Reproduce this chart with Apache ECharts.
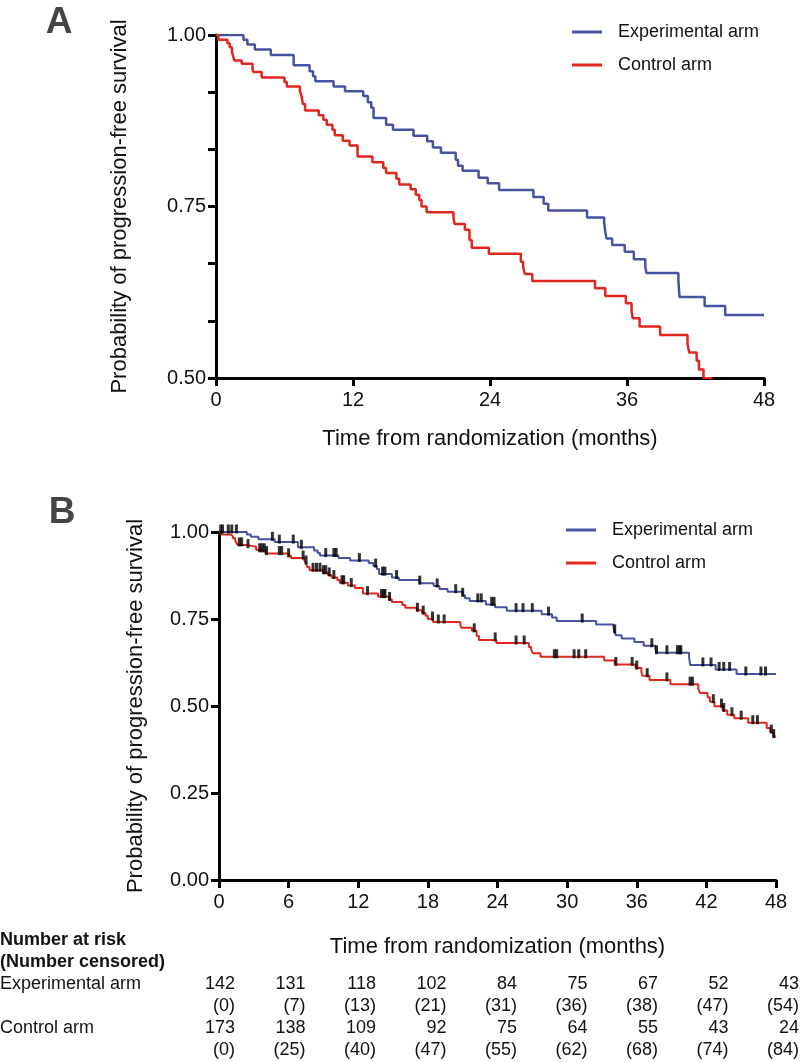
<!DOCTYPE html>
<html>
<head>
<meta charset="utf-8">
<script src="https://cdn.jsdelivr.net/npm/echarts@6/dist/echarts.min.js"></script>
<style>
html,body{margin:0;padding:0;background:#fff;}
#chart{width:800px;height:1062px;}
</style>
</head>
<body>
<div id="chart"></div>
<script>
// ---- Data ----
var expTimes = [0, 2.4, 2.75, 3.4, 4.8, 6.8, 8.2, 8.5, 8.7, 10.3, 11.3, 12.9, 13.3, 13.6, 13.8, 14.9, 15.5, 17.3, 18.5, 19.0, 19.7, 21.0, 21.2, 21.6, 23.0, 23.8, 24.8, 27.8, 28.7, 29.1, 32.5, 34.0, 34.1, 34.2, 34.7, 35.8, 36.6, 37.6, 37.7, 40.5, 40.6, 42.8, 44.6, 48];
var expSurv  = [1.0, 0.993, 0.986, 0.979, 0.971, 0.956, 0.947, 0.94, 0.9325, 0.925, 0.918, 0.911, 0.902, 0.894, 0.879, 0.869, 0.862, 0.853, 0.845, 0.836, 0.8285, 0.818, 0.8095, 0.802, 0.792, 0.784, 0.774, 0.764, 0.754, 0.744, 0.734, 0.7255, 0.713, 0.7035, 0.694, 0.684, 0.673, 0.663, 0.653, 0.643, 0.618, 0.605, 0.592, 0.592];
var ctrlTimes = [0, 0.2, 1.0, 1.2, 1.4, 1.5, 1.6, 2.25, 3.2, 3.3, 4.0, 6.0, 6.2, 7.35, 7.5, 7.6, 7.8, 9.0, 9.4, 9.7, 10.2, 10.4, 11.1, 11.7, 12.4, 13.7, 14.65, 14.9, 15.8, 16.05, 17.05, 17.5, 17.8, 18.0, 18.45, 20.8, 20.9, 21.8, 22.2, 22.4, 23.9, 26.7, 26.9, 27.05, 27.7, 33.2, 34.1, 35.9, 36.4, 36.5, 37.1, 38.9, 41.3, 41.45, 42.1, 42.3, 42.7, 43.4, 43.8, 44.4, 45.6, 47.2, 47.5, 47.8, 48];
var ctrlSurv  = [1.0, 0.993, 0.988, 0.982, 0.975, 0.969, 0.963, 0.958, 0.949, 0.946, 0.938, 0.9315, 0.925, 0.918, 0.911, 0.8995, 0.89, 0.883, 0.8765, 0.869, 0.862, 0.854, 0.846, 0.839, 0.823, 0.8145, 0.806, 0.799, 0.7905, 0.782, 0.775, 0.767, 0.7595, 0.75, 0.7415, 0.733, 0.7245, 0.716, 0.701, 0.69, 0.681, 0.6695, 0.662, 0.6515, 0.6415, 0.631, 0.6195, 0.609, 0.597, 0.587, 0.575, 0.5627, 0.5496, 0.537, 0.525, 0.5125, 0.4996, 0.487, 0.475, 0.465, 0.452, 0.437, 0.425, 0.412, 0.412];
var expCensor  = [0.3, 0.8, 1.1, 1.5, 4.6, 5.2, 6.4, 7.1, 9.2, 9.9, 10.1, 12.1, 13.5, 14.1, 14.3, 15.3, 17.3, 18.8, 20.4, 21.0, 22.3, 22.6, 23.5, 23.7, 25.6, 26.2, 27.0, 28.4, 31.3, 34.1, 37.3, 37.7, 38.6, 39.5, 39.7, 39.8, 41.7, 42.4, 43.1, 43.5, 44.0, 45.4, 46.7, 47.1];
var ctrlCensor = [0.15, 1.75, 1.95, 2.5, 3.5, 3.7, 3.9, 4.1, 5.2, 5.4, 6.0, 7.25, 7.5, 8.1, 8.4, 8.7, 9.0, 9.2, 9.5, 9.9, 10.6, 10.75, 11.4, 12.8, 14.0, 14.2, 14.3, 14.7, 17.1, 17.6, 18.4, 18.9, 19.4, 22.0, 23.8, 25.6, 26.3, 28.9, 29.1, 30.6, 31.0, 31.6, 34.2, 35.6, 36.0, 36.9, 38.6, 40.6, 40.8, 42.6, 43.3, 43.5, 44.2, 45.0, 46.0, 46.4, 47.6, 47.8];
var riskTimes = ['0', '6', '12', '18', '24', '30', '36', '42', '48'];
var expAtRisk = [142, 131, 118, 102, 84, 75, 67, 52, 43];
var expCensored = [0, 7, 13, 21, 31, 36, 38, 47, 54];
var ctrlAtRisk = [173, 138, 109, 92, 75, 64, 55, 43, 24];
var ctrlCensored = [0, 25, 40, 47, 55, 62, 68, 74, 84];
var armNames = ['Experimental arm', 'Control arm'];
var yTitle = 'Probability of progression-free survival';
var xTitle = 'Time from randomization (months)';

// ---- Helpers ----
function pairs(ts, ss) { return ts.map(function (t, i) { return [t, ss[i]]; }); }
function survAt(ts, ss, t) {
  var v = ss[0];
  for (var i = 0; i < ts.length; i++) { if (ts[i] <= t) v = ss[i]; }
  return v;
}
function censorPts(cs, ts, ss) { return cs.map(function (t) { return [t, survAt(ts, ss, t)]; }); }

var FONT = 'Liberation Sans, Arial, Helvetica, sans-serif';
var BLUE = '#4753A0';
var RED = '#E2261C';

function yAxisCfg(gi, min, gap, minor) {
  return {
    gridIndex: gi, type: 'value', min: min, max: 1, interval: 0.25,
    name: yTitle, nameLocation: 'middle', nameGap: gap,
    nameTextStyle: { fontFamily: FONT, fontSize: 22, color: '#111' },
    axisLine: { show: true, lineStyle: { color: '#000', width: 3 } },
    axisTick: { show: true, length: 8, lineStyle: { color: '#000', width: 3 } },
    minorTick: { show: minor, splitNumber: 3, length: 8, lineStyle: { color: '#000', width: 3 } },
    axisLabel: { fontFamily: FONT, fontSize: 20, color: '#111', margin: 10, formatter: function (v) { return v.toFixed(2); } },
    splitLine: { show: false }
  };
}
function xAxisCfg(gi, interval, gap) {
  return {
    gridIndex: gi, type: 'value', min: 0, max: 48, interval: interval,
    name: xTitle, nameLocation: 'middle', nameGap: gap,
    nameTextStyle: { fontFamily: FONT, fontSize: 22, color: '#111' },
    axisLine: { show: true, onZero: false, lineStyle: { color: '#000', width: 3 } },
    axisTick: { show: true, length: 8, lineStyle: { color: '#000', width: 3 } },
    axisLabel: { fontFamily: FONT, fontSize: 20, color: '#111', margin: 12 },
    splitLine: { show: false }
  };
}
function kmLine(name, ts, ss, color, xi, width) {
  return {
    name: name, type: 'line', step: 'end', xAxisIndex: xi, yAxisIndex: xi,
    data: pairs(ts, ss), showSymbol: false, symbol: 'none', clip: true,
    lineStyle: { color: color, width: width }, itemStyle: { color: color }, z: 3
  };
}
function censorSeries(cs, ts, ss) {
  return {
    name: 'censor', type: 'scatter', xAxisIndex: 1, yAxisIndex: 1,
    data: censorPts(cs, ts, ss), symbol: 'rect', symbolSize: [3, 9], symbolOffset: [0, -3],
    itemStyle: { color: '#000' }, z: 4, silent: true
  };
}

var gfx = [];
var txt = function (x, y, s, align, bold) {
  gfx.push({ type: 'text', x: x, y: y,
    style: { text: s, fill: '#111', font: (bold ? 'bold ' : '') + '18px ' + FONT, textAlign: align, textVerticalAlign: 'middle' } });
};
txt(0, 940, 'Number at risk', 'left', true);
txt(0, 962, '(Number censored)', 'left', true);
txt(0, 984, armNames[0], 'left', false);
txt(0, 1028, armNames[1], 'left', false);
riskTimes.forEach(function (t, i) {
  var x = 235 + i * 70.5;
  txt(x, 984, String(expAtRisk[i]), 'right');
  txt(x, 1006, '(' + expCensored[i] + ')', 'right');
  txt(x, 1028, String(ctrlAtRisk[i]), 'right');
  txt(x, 1050, '(' + ctrlCensored[i] + ')', 'right');
});
gfx.push({ type: 'text', x: 59, y: 23, style: { text: 'A', fill: '#454545', font: 'bold 37px ' + FONT, textAlign: 'center', textVerticalAlign: 'middle' } });
gfx.push({ type: 'text', x: 62, y: 513, style: { text: 'B', fill: '#454545', font: 'bold 37px ' + FONT, textAlign: 'center', textVerticalAlign: 'middle' } });

var legendCommon = {
  orient: 'vertical', icon: 'rect', itemWidth: 30, itemHeight: 3, itemGap: 15, padding: 0,
  data: armNames, selectedMode: false,
  textStyle: { fontFamily: FONT, fontSize: 18, color: '#111', padding: [0, 0, 0, 11] }
};

var chart = echarts.init(document.getElementById('chart'), null, { renderer: 'canvas' });
chart.setOption({
  animation: false,
  backgroundColor: '#fff',
  grid: [
    { left: 216, top: 35, width: 548, height: 343 },
    { left: 219, top: 532, width: 557, height: 348 }
  ],
  legend: [
    Object.assign({}, legendCommon, { left: 572, top: 23 }),
    Object.assign({}, legendCommon, { left: 566, top: 521 })
  ],
  xAxis: [xAxisCfg(0, 12, 50), xAxisCfg(1, 6, 56)],
  yAxis: [yAxisCfg(0, 0.5, 85, true), yAxisCfg(1, 0, 72, false)],
  series: [
    kmLine(armNames[0], expTimes, expSurv, BLUE, 0, 2.5),
    kmLine(armNames[1], ctrlTimes, ctrlSurv, RED, 0, 2.5),
    kmLine(armNames[0], expTimes, expSurv, BLUE, 1, 2),
    kmLine(armNames[1], ctrlTimes, ctrlSurv, RED, 1, 2),
    censorSeries(expCensor, expTimes, expSurv),
    censorSeries(ctrlCensor, ctrlTimes, ctrlSurv)
  ],
  graphic: gfx
});
</script>
</body>
</html>
